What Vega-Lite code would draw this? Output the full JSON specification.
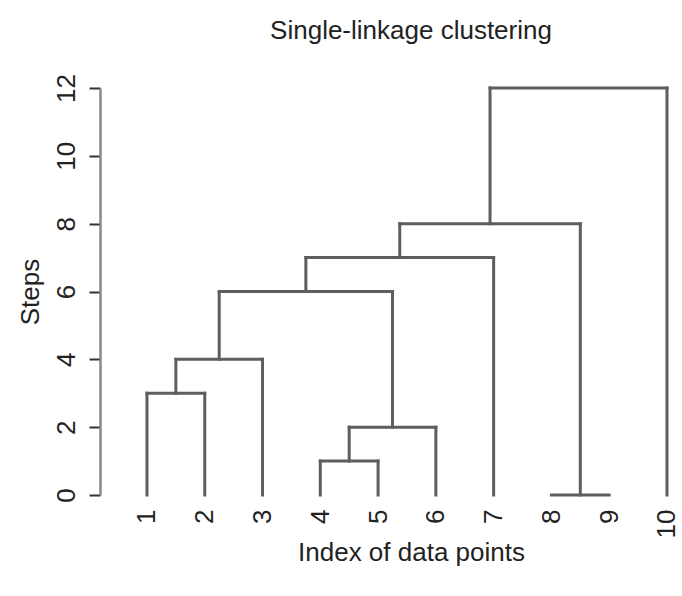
{
  "$schema": "https://vega.github.io/schema/vega-lite/v6.json",
  "autosize": {"type": "none"},
  "padding": {"left": 100, "top": 88, "right": 0, "bottom": 101},
  "width": 582,
  "height": 407,
  "background": "white",
  "title": {
    "text": "Single-linkage clustering",
    "font": "Liberation Sans",
    "fontSize": 26,
    "fontWeight": "normal",
    "color": "#222222",
    "anchor": "middle",
    "frame": "group",
    "baseline": "alphabetic",
    "offset": 9,
    "dx": 20
  },
  "config": {
    "view": {"stroke": null},
    "font": "Liberation Sans"
  },
  "data": {
    "values": [
      {"x": 1, "x2": 1, "y": 0, "y2": 3},
      {"x": 2, "x2": 2, "y": 0, "y2": 3},
      {"x": 1, "x2": 2, "y": 3, "y2": 3},
      {"x": 1.5, "x2": 1.5, "y": 3, "y2": 4},
      {"x": 3, "x2": 3, "y": 0, "y2": 4},
      {"x": 1.5, "x2": 3, "y": 4, "y2": 4},
      {"x": 2.25, "x2": 2.25, "y": 4, "y2": 6},
      {"x": 4, "x2": 4, "y": 0, "y2": 1},
      {"x": 5, "x2": 5, "y": 0, "y2": 1},
      {"x": 4, "x2": 5, "y": 1, "y2": 1},
      {"x": 4.5, "x2": 4.5, "y": 1, "y2": 2},
      {"x": 6, "x2": 6, "y": 0, "y2": 2},
      {"x": 4.5, "x2": 6, "y": 2, "y2": 2},
      {"x": 5.25, "x2": 5.25, "y": 2, "y2": 6},
      {"x": 2.25, "x2": 5.25, "y": 6, "y2": 6},
      {"x": 3.75, "x2": 3.75, "y": 6, "y2": 7},
      {"x": 7, "x2": 7, "y": 0, "y2": 7},
      {"x": 3.75, "x2": 7, "y": 7, "y2": 7},
      {"x": 5.375, "x2": 5.375, "y": 7, "y2": 8},
      {"x": 8, "x2": 9, "y": 0, "y2": 0},
      {"x": 8.5, "x2": 8.5, "y": 0, "y2": 8},
      {"x": 5.375, "x2": 8.5, "y": 8, "y2": 8},
      {"x": 6.9375, "x2": 6.9375, "y": 8, "y2": 12},
      {"x": 10, "x2": 10, "y": 0, "y2": 12},
      {"x": 6.9375, "x2": 10, "y": 12, "y2": 12}
    ]
  },
  "mark": {"type": "rule", "color": "#5e5e5e", "strokeWidth": 3, "strokeCap": "square", "clip": false},
  "encoding": {
    "x": {
      "field": "x",
      "type": "quantitative",
      "scale": {"domain": [0.187, 10.26], "nice": false, "zero": false},
      "axis": {
        "title": "Index of data points",
        "values": [1, 2, 3, 4, 5, 6, 7, 8, 9, 10],
        "format": "d",
        "grid": false,
        "domain": false,
        "ticks": false,
        "tickSize": 0,
        "labelAngle": -90,
        "labelPadding": 14,
        "labelFontSize": 26,
        "labelColor": "#222222",
        "labelFont": "Liberation Sans",
        "labelFlush": false,
        "labelOverlap": false,
        "titleFontSize": 26,
        "titleFontWeight": "normal",
        "titleColor": "#222222",
        "titleFont": "Liberation Sans",
        "titlePadding": 2,
        "titleX": 311
      }
    },
    "x2": {"field": "x2"},
    "y": {
      "field": "y",
      "type": "quantitative",
      "scale": {"domain": [0, 12], "nice": false},
      "axis": {
        "title": "Steps",
        "values": [0, 2, 4, 6, 8, 10, 12],
        "grid": false,
        "domain": true,
        "domainColor": "#888888",
        "domainWidth": 2.5,
        "ticks": true,
        "tickSize": 11,
        "tickColor": "#333333",
        "tickWidth": 2,
        "labelAngle": -90,
        "labelPadding": 10,
        "labelFontSize": 26,
        "labelColor": "#222222",
        "labelFont": "Liberation Sans",
        "labelFlush": false,
        "labelOverlap": false,
        "titleFontSize": 26,
        "titleFontWeight": "normal",
        "titleColor": "#222222",
        "titleFont": "Liberation Sans",
        "titlePadding": 10
      }
    },
    "y2": {"field": "y2"}
  }
}
